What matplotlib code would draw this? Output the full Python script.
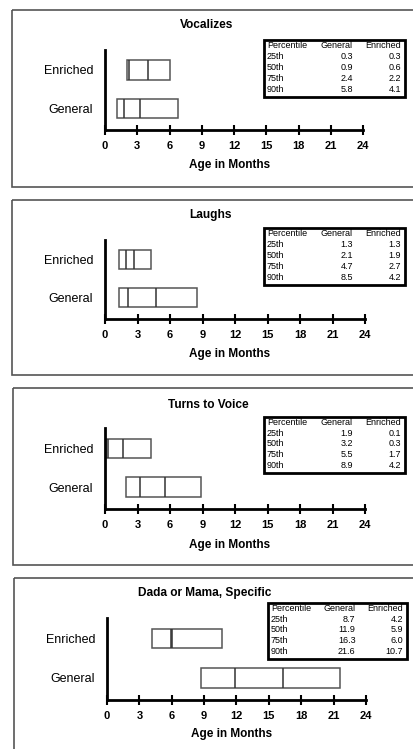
import matplotlib
matplotlib.use('Agg')
import matplotlib.pyplot as plt
from matplotlib.patches import Rectangle

plt.rcParams['font.family'] = ['Liberation Sans', 'DejaVu Sans']

W, H = 413, 749

titles = ["Vocalizes", "Laughs", "Turns to Voice", "Dada or Mama, Specific"]
groups = ["General", "Enriched"]
percentiles = ["25th", "50th", "75th", "90th"]
x_ticks = [0, 3, 6, 9, 12, 15, 18, 21, 24]
x_label = "Age in Months"

# Table values (25th, 50th, 75th, 90th percentile)
vocalizes_general = [0.3, 0.9, 2.4, 5.8]
vocalizes_enriched = [0.3, 0.6, 2.2, 4.1]
laughs_general = [1.3, 2.1, 4.7, 8.5]
laughs_enriched = [1.3, 1.9, 2.7, 4.2]
turns_general = [1.9, 3.2, 5.5, 8.9]
turns_enriched = [0.1, 0.3, 1.7, 4.2]
dada_general = [8.7, 11.9, 16.3, 21.6]
dada_enriched = [4.2, 5.9, 6.0, 10.7]

# Boxes as drawn in the source (Vocalizes boxes are drawn offset from its table)
vocalizes_box_general = [1.15, 1.8, 3.25, 6.8]
vocalizes_box_enriched = [2.05, 2.25, 4.0, 6.0]

tables = [
    (vocalizes_general, vocalizes_enriched),
    (laughs_general, laughs_enriched),
    (turns_general, turns_enriched),
    (dada_general, dada_enriched),
]
boxes = [
    (vocalizes_box_general, vocalizes_box_enriched),
    (laughs_general, laughs_enriched),
    (turns_general, turns_enriched),
    (dada_general, dada_enriched),
]

# layout in pixels
frames = [(12, 10, 187), (12, 200, 375), (13, 388, 565), (14, 578, 765)]
axes_px = [(105, 363, 50, 130), (105, 365, 240, 319), (105, 365, 428, 509), (107, 366, 618, 700)]
title_px = [(207, 25), (210, 215), (208, 405), (205, 593)]
table_px = [(264, 40, 405, 97), (264, 228, 405, 285), (264, 417, 405, 473), (268, 603, 407, 659)]
xlabel_px = [(230, 165), (230, 354), (230, 545), (232, 734)]

fig = plt.figure(figsize=(W / 100, H / 100), dpi=100)

box_color = '#555555'
for i in range(4):
    l, r, t, b = axes_px[i]
    ax = fig.add_axes([l / W, 1 - b / H, (r - l) / W, (b - t) / H])
    ax.set_xlim(0, 24)
    ax.set_ylim(-0.5625, 1.52)
    ax.patch.set_alpha(0)
    for s in ['top', 'right']:
        ax.spines[s].set_visible(False)
    for s in ['left', 'bottom']:
        ax.spines[s].set_linewidth(2)
        ax.spines[s].set_color('black')
    ax.set_xticks(x_ticks)
    ax.set_xticklabels([str(v) for v in x_ticks], fontsize=8, fontweight='bold')
    ax.tick_params(axis='x', direction='inout', length=7, width=1.5, pad=4.5)
    ax.set_yticks([0, 1])
    ax.set_yticklabels(groups, fontsize=9)
    ax.tick_params(axis='y', length=0, pad=8.6)
    for yi, vals in enumerate(boxes[i]):
        p25, p50, p75, p90 = vals
        ax.barh(yi, p90 - p25, left=p25, height=0.5, fill=False,
                edgecolor=box_color, linewidth=1.1)
        ax.vlines([p50, p75], yi - 0.25, yi + 0.25, colors='#333333', linewidth=1.1)

ov = fig.add_axes([0, 0, 1, 1])
ov.set_xlim(0, W)
ov.set_ylim(H, 0)
ov.axis('off')
ov.patch.set_alpha(0)

for i in range(4):
    fl, ft, fb = frames[i]
    ov.add_patch(Rectangle((fl, ft), 500, fb - ft, fill=False, edgecolor='#555555', linewidth=1.2))
    tx, ty = title_px[i]
    ov.text(tx, ty, titles[i], ha='center', va='center', fontsize=8.6, fontweight='bold')
    lx, ly = xlabel_px[i]
    ov.text(lx, ly, x_label, ha='center', va='center', fontsize=8.5, fontweight='bold')
    x0, y0, x1, y1 = table_px[i]
    ov.add_patch(Rectangle((x0, y0), x1 - x0, y1 - y0, fill=False, edgecolor='black', linewidth=2))
    h = y1 - y0
    rows_y = [y0 + h * f for f in (0.10, 0.29, 0.48, 0.67, 0.86)]
    cx_gen = x0 + (x1 - x0) * 0.63
    cx_enr = x1 - 4
    fs = 6.5
    ov.text(x0 + 3, rows_y[0], "Percentile", ha='left', va='center', fontsize=fs)
    ov.text(cx_gen, rows_y[0], "General", ha='right', va='center', fontsize=fs)
    ov.text(cx_enr, rows_y[0], "Enriched", ha='right', va='center', fontsize=fs)
    gen, enr = tables[i]
    for k in range(4):
        ov.text(x0 + 3, rows_y[k + 1], percentiles[k], ha='left', va='center', fontsize=fs)
        ov.text(cx_gen, rows_y[k + 1], f"{gen[k]:.1f}", ha='right', va='center', fontsize=fs)
        ov.text(cx_enr, rows_y[k + 1], f"{enr[k]:.1f}", ha='right', va='center', fontsize=fs)

fig.savefig('out.png', dpi=100)
